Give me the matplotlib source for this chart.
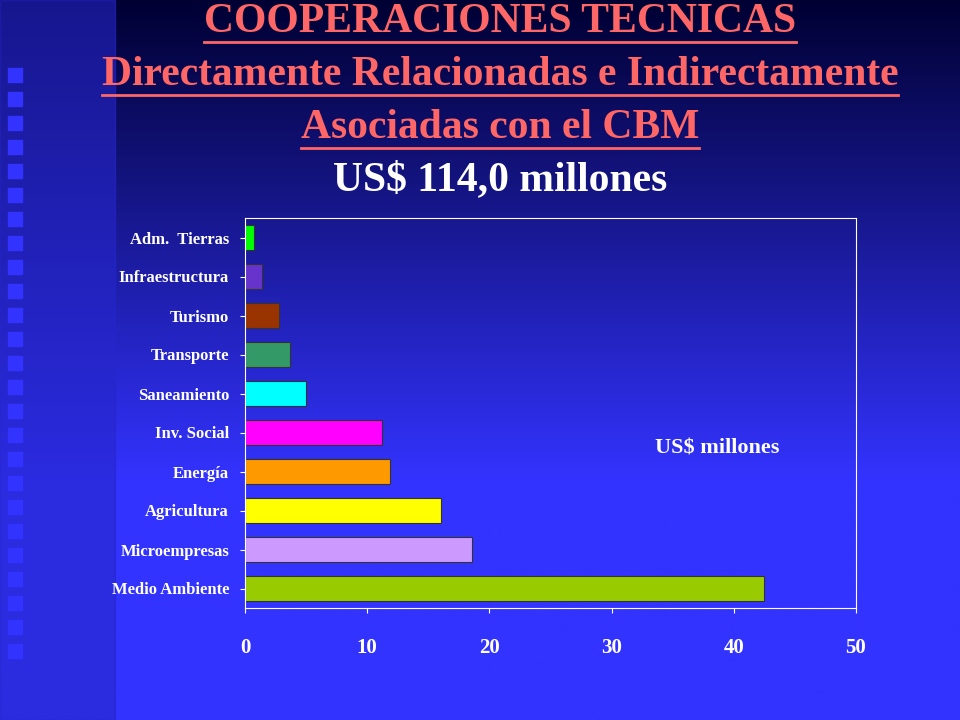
import numpy as np
import matplotlib.pyplot as plt
from matplotlib.colors import LinearSegmentedColormap
from matplotlib.patches import Rectangle

categorias = ["Medio Ambiente", "Microempresas", "Agricultura", "Energía", "Inv. Social",
              "Saneamiento", "Transporte", "Turismo", "Infraestructura", "Adm.  Tierras"]
valores = [42.5, 18.6, 16.0, 11.9, 11.2, 5.0, 3.7, 2.8, 1.4, 0.74]
colores = ["#99cc00", "#cc99ff", "#ffff00", "#ff9900", "#ff00ff",
           "#00ffff", "#339966", "#993300", "#6633cc", "#00ff00"]
ticks = [0, 10, 20, 30, 40, 50]

W, H = 960, 720
fig = plt.figure(figsize=(W / 100, H / 100), dpi=100)

# fondo degradado
bg = fig.add_axes([0, 0, 1, 1])
cmap = LinearSegmentedColormap.from_list("fondo", ["#000033", "#1a1a99", "#3333ff", "#3333ff"])
grad = np.linspace(0, 1, 256).reshape(-1, 1)
bg.imshow(grad, aspect="auto", cmap=cmap, extent=[0, W, H, 0])
# franja izquierda con cuadritos
bg.add_patch(Rectangle((0, 0), 115, H, color="#2626cc", alpha=0.6))
for y in range(68, 660, 24):
    bg.add_patch(Rectangle((8, y), 14, 14, color="#3333ff"))
bg.set_xlim(0, W)
bg.set_ylim(H, 0)
bg.axis("off")

rojo = "#ff6666"
titulos = [("COOPERACIONES TECNICAS", 22, rojo, True),
           ("Directamente Relacionadas e Indirectamente", 75, rojo, True),
           ("Asociadas con el CBM", 128, rojo, True),
           ("US$ 114,0 millones", 180, "white", False)]
textos = []
for txt, y, c, sub in titulos:
    t = bg.text(500, y, txt, ha="center", va="center", color=c, fontsize=30,
                fontweight="bold", family="Liberation Serif")
    textos.append((t, sub, c))

ax = fig.add_axes([245 / W, 1 - 608 / H, (856 - 245) / W, (608 - 218) / H])
ax.set_facecolor("none")
y = np.arange(len(categorias))
ax.barh(y, valores, height=0.65, color=colores, edgecolor="#333333", linewidth=0.8)
ax.set_xlim(0, 50)
ax.set_ylim(-0.5, len(categorias) - 0.5)
ax.set_xticks(ticks)
ax.set_xticklabels([str(t) for t in ticks])
ax.set_yticks(y)
ax.set_yticklabels(categorias)
for s in ax.spines.values():
    s.set_color("white")
ax.tick_params(colors="white", labelcolor="white")
ax.tick_params(axis="x", pad=18)
ax.tick_params(axis="y", pad=8)
for lab in ax.get_xticklabels():
    lab.set_fontsize(15); lab.set_fontweight("bold"); lab.set_family("Liberation Serif")
for lab in ax.get_yticklabels():
    lab.set_fontsize(12); lab.set_fontweight("bold"); lab.set_family("Liberation Serif")
ax.text(38.6, 3.6, "US$ millones", color="white", fontsize=16, fontweight="bold",
        family="Liberation Serif", ha="center", va="center")

# subrayado de los titulos
fig.canvas.draw()
r = fig.canvas.get_renderer()
for t, sub, c in textos:
    if not sub:
        continue
    bb = t.get_window_extent(r)
    yl = H - bb.y0 + 1
    bg.plot([bb.x0, bb.x1], [yl, yl], color=c, lw=2)

fig.savefig("out.png", dpi=100)
